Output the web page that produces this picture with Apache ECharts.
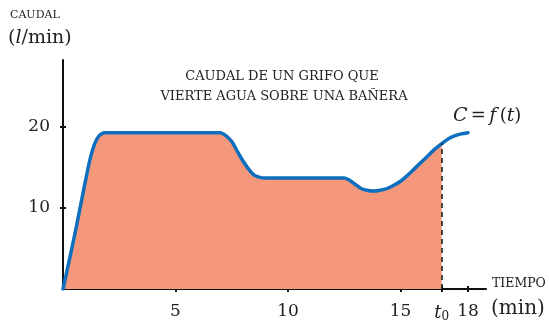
<!DOCTYPE html>
<html>
<head>
<meta charset="utf-8">
<script src="https://cdn.jsdelivr.net/npm/echarts@6/dist/echarts.min.js"></script>
<style>
  html, body { margin: 0; padding: 0; background: #fff; }
  #chart { width: 549px; height: 325px; }
</style>
</head>
<body>
<div id="chart"></div>
<script>
// Flow rate of a tap filling a bathtub: time (min) vs flow (l/min)
var times = [0, 0.3, 0.6, 0.9, 1.2, 1.4, 1.6, 1.85, 3, 4, 5, 6, 7.0, 7.25, 7.5, 7.75, 8.0, 8.25, 8.5, 8.75, 9.0, 10, 11, 12, 12.5, 12.75, 13.0, 13.25, 13.5, 13.8, 14.1, 14.4, 14.7, 15.0, 15.3, 15.6, 15.9, 16.2, 16.5, 16.83, 17.1, 17.4, 17.7, 18.0];
var flows = [0, 3.8, 7.8, 12.0, 16.0, 17.9, 18.9, 19.3, 19.3, 19.3, 19.3, 19.3, 19.3, 18.9, 18.2, 17.0, 15.8, 14.8, 14.05, 13.78, 13.7, 13.7, 13.7, 13.7, 13.7, 13.4, 12.9, 12.4, 12.2, 12.1, 12.2, 12.4, 12.8, 13.3, 14.0, 14.8, 15.6, 16.4, 17.2, 17.95, 18.5, 18.9, 19.15, 19.3];
var t0 = 16.83;
var xTicks = [5, 10, 15, 16.83, 18];
var xTickLabels = ['5', '10', '15', '{i|t}{s|0}', '18'];
var yTicks = [10, 20];

var curve = times.map(function (t, i) { return [t, flows[i]]; });
var filled = curve.filter(function (p) { return p[0] <= t0 + 1e-9; });
var flowAtT0 = flows[times.indexOf(t0)];

var serif = '"DejaVu Serif", serif';
var ink = '#222';

var chart = echarts.init(document.getElementById('chart'));
chart.setOption({
  animation: false,
  grid: { left: 63, top: 60, width: 423, height: 229, containLabel: false },
  xAxis: [{
    type: 'value', min: 0, max: 18.8,
    axisLine: { show: true, lineStyle: { color: '#111', width: 2 } },
    splitLine: { show: false },
    axisTick: { show: true, customValues: xTicks, length: 3, lineStyle: { color: '#111', width: 2 } },
    axisLabel: {
      show: true, customValues: xTicks, margin: 14,
      fontFamily: serif, fontSize: 17, color: ink,
      formatter: function (v) {
        var k = xTicks.indexOf(v);
        return k >= 0 ? xTickLabels[k] : '';
      },
      rich: {
        i: { fontFamily: serif, fontStyle: 'italic', fontSize: 18, color: ink },
        s: { fontFamily: serif, fontSize: 12, color: ink, verticalAlign: 'bottom', padding: [8, 0, 0, 0] }
      }
    }
  }, {
    type: 'value', min: 0, max: 18.8, position: 'bottom',
    axisLine: { show: false }, splitLine: { show: false }, axisLabel: { show: false },
    axisTick: { show: true, inside: true, customValues: xTicks, length: 3, lineStyle: { color: '#111', width: 2 } }
  }],
  yAxis: [{
    type: 'value', min: 0, max: 28.27,
    axisLine: { show: true, lineStyle: { color: '#111', width: 2 } },
    splitLine: { show: false },
    axisTick: { show: true, customValues: yTicks, length: 3, lineStyle: { color: '#111', width: 2 } },
    axisLabel: { show: true, customValues: yTicks, margin: 13, fontFamily: serif, fontSize: 17, color: ink }
  }, {
    type: 'value', min: 0, max: 28.27, position: 'left',
    axisLine: { show: false }, splitLine: { show: false }, axisLabel: { show: false },
    axisTick: { show: true, inside: true, customValues: yTicks, length: 3, lineStyle: { color: '#111', width: 2 } }
  }],
  series: [{
    // shaded area under the curve up to t0
    type: 'line', data: filled, smooth: 0.25, symbol: 'none', z: 1,
    lineStyle: { width: 0, opacity: 0 },
    areaStyle: { color: '#F5977B', opacity: 1 },
    markLine: {
      silent: true, symbol: 'none', label: { show: false },
      lineStyle: { color: '#111', type: [5, 4], width: 1.5 },
      data: [[{ coord: [t0, 0] }, { coord: [t0, flowAtT0] }]]
    }
  }, {
    // the curve C = f(t)
    type: 'line', data: curve, smooth: 0.25, symbol: 'none', z: 3,
    lineStyle: { color: '#0E6FBE', width: 3.5, cap: 'round' }
  }],
  graphic: [
    { type: 'text', left: 10, top: 10, style: { text: 'CAUDAL', font: '11px ' + serif, fill: ink } },
    { type: 'text', left: 8, top: 29, style: {
        text: '{n|(}{i|l}{n|/min)}',
        rich: {
          n: { fontFamily: serif, fontSize: 19, fill: ink, color: ink },
          i: { fontFamily: serif, fontSize: 19, fontStyle: 'italic', fill: ink, color: ink }
        } } },
    { type: 'text', x: 282, y: 70, style: { text: 'CAUDAL DE UN GRIFO QUE', font: '13px ' + serif, fill: ink, textAlign: 'center' } },
    { type: 'text', x: 284, y: 90, style: { text: 'VIERTE AGUA SOBRE UNA BAÑERA', font: '13px ' + serif, fill: ink, textAlign: 'center' } },
    { type: 'text', left: 453, top: 107, style: {
        text: '{i|C} {n|=} {i|f} {n|(}{i|t}{n|)}',
        rich: {
          n: { fontFamily: serif, fontSize: 18, fill: ink, color: ink },
          i: { fontFamily: serif, fontSize: 19, fontStyle: 'italic', fill: ink, color: ink }
        } } },
    { type: 'text', left: 492, top: 277, style: { text: 'TIEMPO', font: '12.5px ' + serif, fill: ink } },
    { type: 'text', left: 491, top: 299, style: { text: '(min)', font: '20px ' + serif, fill: ink } }
  ]
});
</script>
</body>
</html>
